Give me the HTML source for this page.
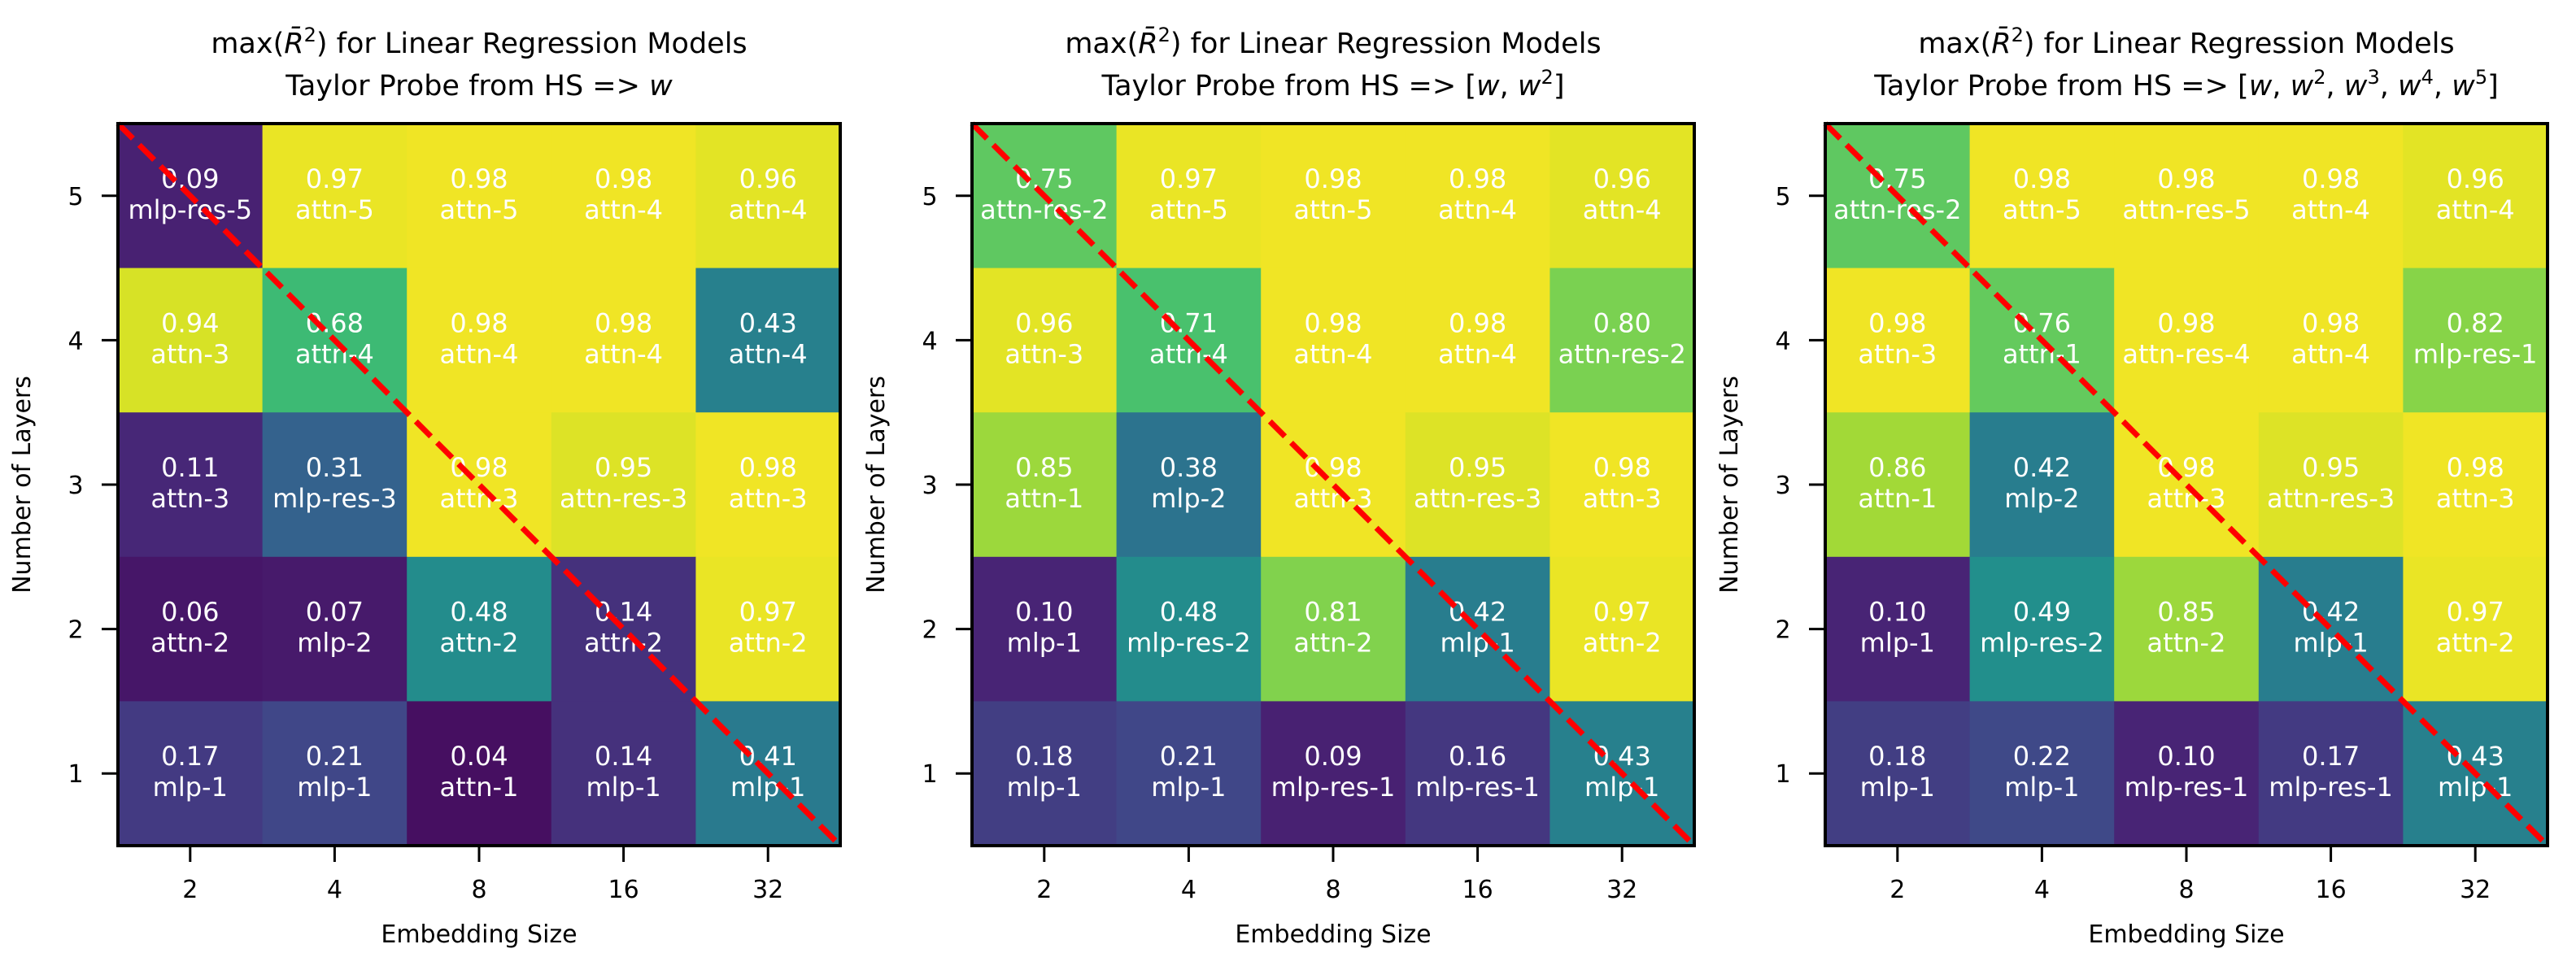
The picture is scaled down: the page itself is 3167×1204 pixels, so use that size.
<!DOCTYPE html>
<html><head><meta charset="utf-8"><style>
html,body{margin:0;padding:0;background:#fff;}
svg text{font-family:"DejaVu Sans","Liberation Sans",sans-serif;}
</style></head><body>
<svg id="fig" xmlns="http://www.w3.org/2000/svg" width="3167" height="1199" viewBox="0 0 3167 1199"></svg>
<script>
const xCategories = ["2","4","8","16","32"];
const yCategories = ["1","2","3","4","5"];
// values: rows from layer 5 (top) to layer 1 (bottom)
const values1 = [[0.09,0.97,0.98,0.98,0.96],[0.94,0.68,0.98,0.98,0.43],[0.11,0.31,0.98,0.95,0.98],[0.06,0.07,0.48,0.14,0.97],[0.17,0.21,0.04,0.14,0.41]];
const labels1 = [["mlp-res-5","attn-5","attn-5","attn-4","attn-4"],["attn-3","attn-4","attn-4","attn-4","attn-4"],["attn-3","mlp-res-3","attn-3","attn-res-3","attn-3"],["attn-2","mlp-2","attn-2","attn-2","attn-2"],["mlp-1","mlp-1","attn-1","mlp-1","mlp-1"]];
const values2 = [[0.75,0.97,0.98,0.98,0.96],[0.96,0.71,0.98,0.98,0.80],[0.85,0.38,0.98,0.95,0.98],[0.10,0.48,0.81,0.42,0.97],[0.18,0.21,0.09,0.16,0.43]];
const labels2 = [["attn-res-2","attn-5","attn-5","attn-4","attn-4"],["attn-3","attn-4","attn-4","attn-4","attn-res-2"],["attn-1","mlp-2","attn-3","attn-res-3","attn-3"],["mlp-1","mlp-res-2","attn-2","mlp-1","attn-2"],["mlp-1","mlp-1","mlp-res-1","mlp-res-1","mlp-1"]];
const values3 = [[0.75,0.98,0.98,0.98,0.96],[0.98,0.76,0.98,0.98,0.82],[0.86,0.42,0.98,0.95,0.98],[0.10,0.49,0.85,0.42,0.97],[0.18,0.22,0.10,0.17,0.43]];
const labels3 = [["attn-res-2","attn-5","attn-res-5","attn-4","attn-4"],["attn-3","attn-1","attn-res-4","attn-4","mlp-res-1"],["attn-1","mlp-2","attn-3","attn-res-3","attn-3"],["mlp-1","mlp-res-2","attn-2","mlp-1","attn-2"],["mlp-1","mlp-1","mlp-res-1","mlp-res-1","mlp-1"]];

const NS="http://www.w3.org/2000/svg";
const svg=document.getElementById('fig');
const VIR=["#440154","#482475","#414487","#355f8d","#2a788e","#21918c","#22a884","#44bf70","#7ad151","#bddf26","#fde725"];
function hex(h){return [1,3,5].map(i=>parseInt(h.substr(i,2),16));}
function viridis(v){v=Math.max(0,Math.min(1,v));const t=v*10,i=Math.min(9,Math.floor(t)),f=t-i;const a=hex(VIR[i]),b=hex(VIR[i+1]);return 'rgb('+a.map((c,k)=>Math.round(c+(b[k]-c)*f)).join(',')+')';}
function mk(tag,attrs,parent){const e=document.createElementNS(NS,tag);for(const k in attrs)e.setAttribute(k,attrs[k]);(parent||svg).appendChild(e);return e;}

const PW=888,PH=888,TOP=152;
const panels=[
 {left:145,vals:values1,labs:labels1,sub:[["Taylor Probe from HS => ",0],["w",1]]},
 {left:1195,vals:values2,labs:labels2,sub:[["Taylor Probe from HS => [",0],["w",1],[", ",0],["w",1],["2",2],["]",0]]},
 {left:2244,vals:values3,labs:labels3,sub:[["Taylor Probe from HS => [",0],["w",1],[", ",0],["w",1],["2",2],[", ",0],["w",1],["3",2],[", ",0],["w",1],["4",2],[", ",0],["w",1],["5",2],["]",0]]}
];
panels.forEach((p,pi)=>{
 const g=mk('g',{});
 
 
 const nx=xCategories.length, ny=yCategories.length;
 const cw=PW/nx, ch=PH/ny;
 const xC=i=>p.left+(i+0.5)*cw;
 const yRow=r=>TOP+r*ch; // r=0 top row (layer 5)
 p.vals.forEach((row,r)=>row.forEach((v,c)=>{
  const rc=mk('rect',{x:p.left+c*cw,y:yRow(r),width:cw+0.5,height:ch+0.5,fill:viridis(v)},g);
  
  
  const t1=mk('text',{x:xC(c),y:yRow(r)+ch/2-10,'text-anchor':'middle','font-size':32,fill:'#fff'},g);
  t1.textContent=v.toFixed(2);
  
  
  const t2=mk('text',{x:xC(c),y:yRow(r)+ch/2+28,'text-anchor':'middle','font-size':32,fill:'#fff'},g);
  t2.textContent=p.labs[r][c];
  
  
 }));
 const dl=mk('line',{x1:p.left,y1:TOP,x2:p.left+PW,y2:TOP+PH,stroke:'#ff0000','stroke-width':7,'stroke-dasharray':'26 11'},g);
 
 
 const fr=mk('rect',{x:p.left,y:TOP,width:PW,height:PH,fill:'none',stroke:'#000','stroke-width':4},g);
 
 
 xCategories.forEach((lab,i)=>{
  const tk=mk('line',{x1:xC(i),y1:TOP+PH,x2:xC(i),y2:TOP+PH+20,stroke:'#000','stroke-width':3},g);
  
  
  const t=mk('text',{x:xC(i),y:TOP+PH+64,'text-anchor':'middle','font-size':30,fill:'#000'},g);
  t.textContent=lab;
  
  
 });
 yCategories.forEach((lab,i)=>{
  const y=TOP+PH-(i+0.5)*ch;
  const tk=mk('line',{x1:p.left-20,y1:y,x2:p.left,y2:y,stroke:'#000','stroke-width':3},g);
  
  
  const t=mk('text',{x:p.left-52,y:y+11,'text-anchor':'middle','font-size':30,fill:'#000'},g);
  t.textContent=lab;
  
  
 });
 const xl=mk('text',{x:p.left+PW/2,y:1159,'text-anchor':'middle','font-size':30,fill:'#000'},g);
 xl.textContent='Embedding Size';
 
 
 const yx=p.left-108, yy=TOP+PH/2;
 const yl=mk('text',{x:yx,y:yy,'text-anchor':'middle','font-size':30,fill:'#000',transform:`rotate(-90 ${yx} ${yy})`},g);
 yl.textContent='Number of Layers';
 
 
 const t1=mk('text',{x:p.left+PW/2,y:65,'text-anchor':'middle','font-size':35,fill:'#000'},g);
 
 
 [["max(",0],["R\u0304",1],["2",2],[") for Linear Regression Models",0]].forEach(s=>addSpan(t1,s));
 const t2=mk('text',{x:p.left+PW/2,y:117,'text-anchor':'middle','font-size':35,fill:'#000'},g);
 
 
 p.sub.forEach(s=>addSpan(t2,s));
});
function addSpan(t,s){
 const ts=mk('tspan',{},t);
 ts.textContent=s[0];
 if(s[1]===1)ts.setAttribute('font-style','italic');
 if(s[1]===2){ts.setAttribute('font-size','24');ts.setAttribute('dy','-14');}
 else if(t.lastSup){ts.setAttribute('dy','14');}
 t.lastSup=(s[1]===2);
}
</script>
</body></html>
